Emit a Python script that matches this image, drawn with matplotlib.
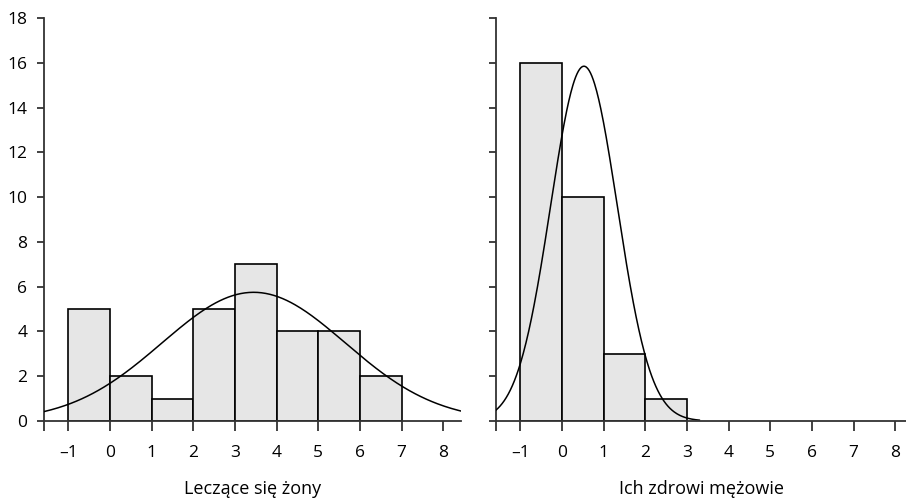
import numpy as np
import matplotlib
matplotlib.use("Agg")
import matplotlib.pyplot as plt

plt.rcParams['font.family'] = ['Open Sans', 'DejaVu Sans']

# histogram bins (left edges) and counts
wives_edges = [-1, 0, 1, 2, 3, 4, 5, 6]
wives_counts = [5, 2, 1, 5, 7, 4, 4, 2]
husbands_edges = [-1, 0, 1, 2]
husbands_counts = [16, 10, 3, 1]

# fitted normal curves: mean, sd, peak height, x range
wives_fit = (3.45, 2.2, 5.75, -1.58, 8.43)
husbands_fit = (0.53, 0.8, 15.85, -1.58, 3.3)

xticks = [-1, 0, 1, 2, 3, 4, 5, 6, 7, 8]
xticklabels = ['–1', '0', '1', '2', '3', '4', '5', '6', '7', '8']
yticks = [0, 2, 4, 6, 8, 10, 12, 14, 16, 18]

labels = ["Leczące się żony", "Ich zdrowi mężowie"]

fig = plt.figure(figsize=(9.06, 5.03), dpi=100)
ax1 = fig.add_axes([0.0486, 0.163, 0.4604, 0.801])
ax2 = fig.add_axes([0.5475, 0.163, 0.4525, 0.801])

panels = [
    (ax1, wives_edges, wives_counts, wives_fit, (-1.58, 8.43), labels[0]),
    (ax2, husbands_edges, husbands_counts, husbands_fit, (-1.58, 8.26), labels[1]),
]

for ax, edges, counts, fit, xlim, lab in panels:
    ax.bar(edges, counts, width=1, align='edge', color='#e6e6e6',
           edgecolor='black', linewidth=1.2, zorder=2)
    mu, sd, peak, x0, x1 = fit
    xs = np.linspace(x0, x1, 300)
    ax.plot(xs, peak * np.exp(-0.5 * ((xs - mu) / sd) ** 2),
            color='black', linewidth=1.1, zorder=3)
    ax.set_xlim(*xlim)
    ax.set_ylim(0, 18)
    ax.set_xticks(xticks)
    ax.set_xticklabels(xticklabels, fontsize=12.5)
    ax.set_xticks([xlim[0]], minor=True)
    ax.set_yticks(yticks)
    ax.tick_params(axis='x', which='both', length=7, width=1.3,
                   color='#333333', pad=10)
    ax.tick_params(axis='y', length=5, width=1.3, color='#333333',
                   labelsize=12.5, pad=7)
    for s in ['top', 'right']:
        ax.spines[s].set_visible(False)
    for s in ['left', 'bottom']:
        ax.spines[s].set_linewidth(1.3)
        ax.spines[s].set_color('#333333')
    ax.spines['bottom'].set_zorder(4)
    ax.set_xlabel(lab, fontsize=13, labelpad=14)

ax2.tick_params(axis='y', labelleft=False)

fig.savefig("out.png", dpi=100)
